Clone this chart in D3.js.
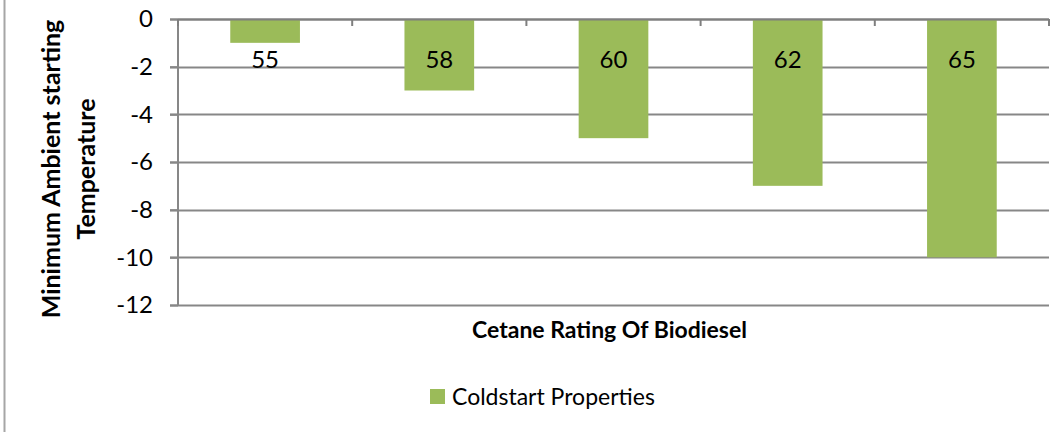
<!DOCTYPE html>
<html>
<head>
<meta charset="utf-8">
<script src="https://cdn.jsdelivr.net/npm/d3@7"></script>
<style>
  body { margin: 0; background: #fff; }
  svg { display: block; font-family: Lato, "Open Sans", sans-serif; }
</style>
</head>
<body>
<div id="chart"></div>
<script>
"use strict";

// cetane rating of each biodiesel sample
let categories = ["55", "58", "60", "62", "65"];
// minimum ambient starting temperature
let coldstartValues = [-1, -3, -5, -7, -10];
let yTicks = [0, -2, -4, -6, -8, -10, -12];
let seriesName = "Coldstart Properties";

let data = categories.map(function(c, i) { return {cat: c, value: coldstartValues[i]}; });

let W = 1063, H = 432,
  margin = {top: 19, right: 14, bottom: 127, left: 178},
  width = W - margin.left - margin.right,
  height = H - margin.top - margin.bottom,
  barColor = "#9BBB59",
  gridColor = "#878787"
;

let svg = d3.select("#chart").append("svg")
  .attr("width", W)
  .attr("height", H);

svg.append("rect").attr("width", W).attr("height", H).attr("fill", "#fff");

// chart frame, only its left edge is visible
svg.append("line")
  .attr("x1", 4.5).attr("x2", 4.5)
  .attr("y1", 0).attr("y2", H)
  .attr("stroke", "#a6a6a6")
  .attr("stroke-width", 2)
;

let g = svg.append("g").attr("transform", "translate(" + margin.left + "," + margin.top + ")"),
  x = d3.scaleBand().domain(categories).range([0, width]).paddingInner(0.6).paddingOuter(0.3),
  y = d3.scaleLinear().domain([-12, 0]).range([height, 0])
;

// gridlines (they run through the tick marks on the left)
g.append("g")
  .selectAll("line")
  .data(yTicks)
  .enter()
  .append("line")
  .attr("x1", -8)
  .attr("x2", width)
  .attr("y1", function(d) { return Math.round(y(d)) + 0.5; })
  .attr("y2", function(d) { return Math.round(y(d)) + 0.5; })
  .attr("stroke", gridColor)
  .attr("stroke-width", 2)
;

// y axis
let yAxis = g.append("g")
  .call(d3.axisLeft(y).tickValues(yTicks).tickSize(8).tickPadding(17).tickFormat(d3.format("d")));
yAxis.selectAll("line").attr("stroke", gridColor).attr("stroke-width", 2);
yAxis.select(".domain").attr("stroke", gridColor).attr("stroke-width", 2).attr("d", "M0," + y(0) + "V" + y(-12));
yAxis.selectAll("text")
  .attr("fill", "#000")
  .style("font-size", "24px")
  .style("font-family", "Lato, 'Open Sans', sans-serif")
  .text(function(d) { return d < 0 ? "-" + Math.abs(d) : d; })
;

// bars
g.selectAll("rect.bar")
  .data(data)
  .enter()
  .append("rect")
  .attr("class", "bar")
  .attr("x", function(d) { return x(d.cat); })
  .attr("y", y(0))
  .attr("width", x.bandwidth())
  .attr("height", function(d) { return y(d.value) - y(0); })
  .attr("fill", barColor)
;

// category axis sits at zero, ticks between categories
let step = x.step(),
  boundaries = categories.map(function(c) { return x(c) - (step - x.bandwidth()) / 2; }).concat([width])
;
g.append("line")
  .attr("x1", 0).attr("x2", width)
  .attr("y1", y(0) + 0.5).attr("y2", y(0) + 0.5)
  .attr("stroke", "#7f7f7f")
  .attr("stroke-width", 2)
;
g.append("g")
  .selectAll("line")
  .data(boundaries)
  .enter()
  .append("line")
  .attr("x1", function(d) { return d; })
  .attr("x2", function(d) { return d; })
  .attr("y1", y(0))
  .attr("y2", y(0) + 7)
  .attr("stroke", "#7f7f7f")
  .attr("stroke-width", 2)
;

// data labels (category names, inside base)
g.selectAll("text.label")
  .data(data)
  .enter()
  .append("text")
  .attr("class", "label")
  .attr("x", function(d) { return x(d.cat) + x.bandwidth() / 2; })
  .attr("y", y(0) + 49)
  .attr("text-anchor", "middle")
  .style("font-size", "24px")
  .attr("fill", "#000")
  .text(function(d) { return d.cat; })
;

// axis titles
svg.append("text")
  .attr("x", margin.left + width / 2 - 4)
  .attr("y", 338)
  .attr("text-anchor", "middle")
  .style("font-size", "23px")
  .style("font-weight", "bold")
  .text("Cetane Rating Of Biodiesel")
;

let yTitle = svg.append("text")
  .attr("transform", "translate(0,169) rotate(-90)")
  .attr("text-anchor", "middle")
  .style("font-size", "25px")
  .style("font-weight", "bold")
;
yTitle.append("tspan").attr("x", 0).attr("y", 60).text("Minimum Ambient starting");
yTitle.append("tspan").attr("x", 0).attr("y", 95).text("Temperature");

// legend
let legend = svg.append("g").attr("transform", "translate(430,389)");
legend.append("rect").attr("width", 15).attr("height", 15).attr("fill", barColor);
legend.append("text")
  .attr("x", 22)
  .attr("y", 16)
  .style("font-size", "23px")
  .text(seriesName)
;
</script>
</body>
</html>
